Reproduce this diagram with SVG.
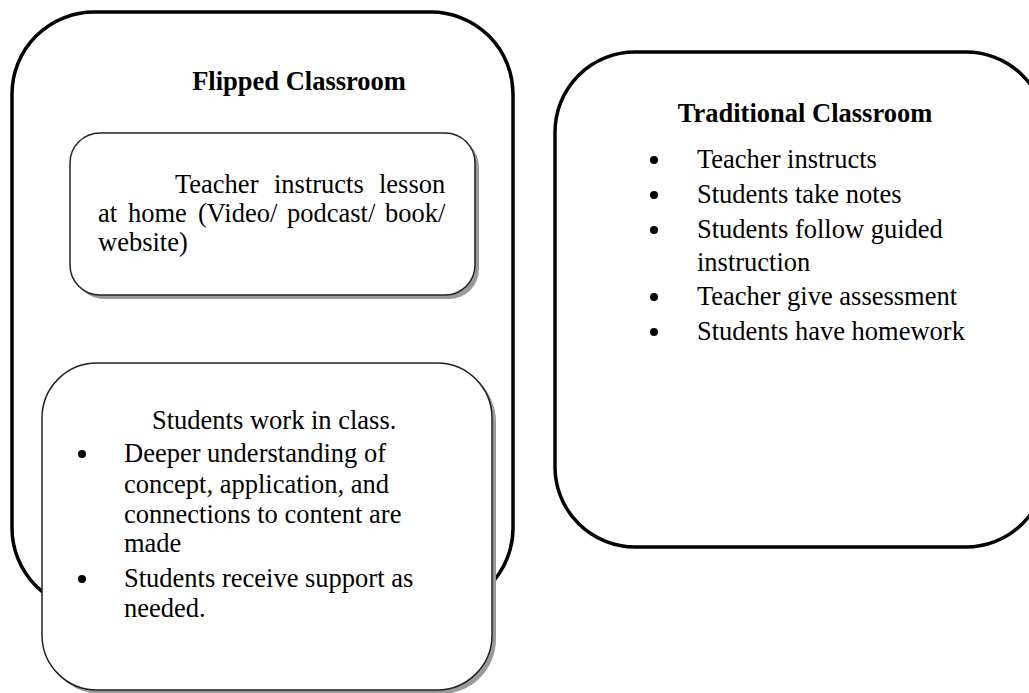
<svg xmlns="http://www.w3.org/2000/svg" width="1029" height="693" viewBox="0 0 1029 693">
<style>
.outer{fill:#fff;stroke:#000;stroke-width:3.5}
.inner{fill:#fff;stroke:#222;stroke-width:1.5}
.shadow{fill:#9a9a9a}
text{font-family:"Liberation Serif","Times New Roman",serif;font-size:26.5px;fill:#000}
.title{font-weight:bold}
.bullet{fill:#000}
</style>
<rect width="1029" height="693" fill="#fff"/>
<g id="flipped">
<rect class="outer" x="12" y="12" width="501" height="598" rx="82" ry="82"/>
<text class="title" x="299" y="90" text-anchor="middle">Flipped Classroom</text>
</g>
<g id="home">
<rect class="shadow" x="74" y="137" width="405" height="162" rx="30" ry="30"/>
<rect class="inner" x="70" y="133" width="405" height="162" rx="30" ry="30"/>
<text y="193"><tspan x="175">Teacher</tspan><tspan x="274">instructs</tspan><tspan x="379">lesson</tspan></text>
<text y="222"><tspan x="98">at</tspan><tspan x="128">home</tspan><tspan x="198">(Video/</tspan><tspan x="287">podcast/</tspan><tspan x="385">book/</tspan></text>
<text x="98" y="251">website)</text>
</g>
<g id="inclass">
<rect class="shadow" x="46" y="367" width="450" height="327" rx="55" ry="55"/>
<rect class="inner" x="42" y="363" width="450" height="327" rx="55" ry="55"/>
<text x="152" y="429">Students work in class.</text>
<circle class="bullet" cx="82" cy="454" r="4"/>
<text x="124" y="462">Deeper understanding of</text>
<text x="124" y="493">concept, application, and</text>
<text x="124" y="523">connections to content are</text>
<text x="124" y="552">made</text>
<circle class="bullet" cx="82" cy="579" r="4"/>
<text x="124" y="587">Students receive support as</text>
<text x="124" y="617">needed.</text>
</g>
<g id="traditional">
<rect class="outer" x="555" y="52" width="491" height="495" rx="80" ry="80"/>
<text class="title" x="805" y="122" text-anchor="middle">Traditional Classroom</text>
<circle class="bullet" cx="654" cy="160" r="4"/>
<text x="697" y="168">Teacher instructs</text>
<circle class="bullet" cx="654" cy="195" r="4"/>
<text x="697" y="203">Students take notes</text>
<circle class="bullet" cx="654" cy="230" r="4"/>
<text x="697" y="238">Students follow guided</text>
<text x="697" y="271">instruction</text>
<circle class="bullet" cx="654" cy="297" r="4"/>
<text x="697" y="305">Teacher give assessment</text>
<circle class="bullet" cx="654" cy="332" r="4"/>
<text x="697" y="340">Students have homework</text>
</g>
<g id="connectors"></g>
</svg>
